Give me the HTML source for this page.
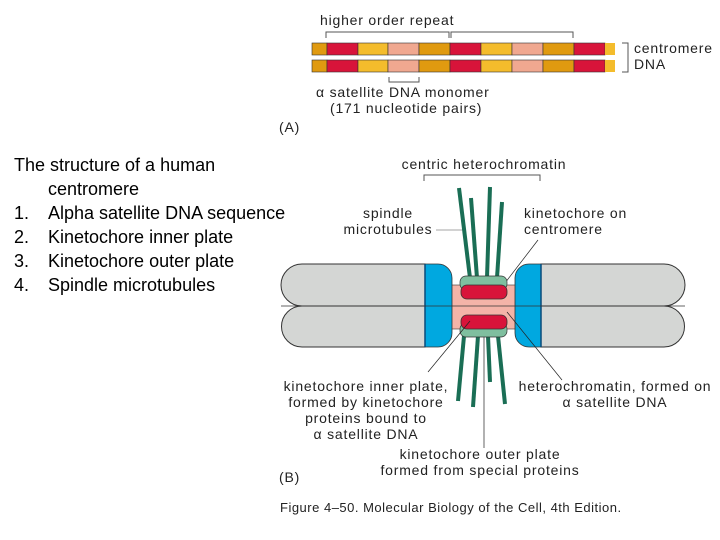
<!DOCTYPE html>
<html><head><meta charset="utf-8"><style>
html,body{margin:0;padding:0;background:#fff;width:720px;height:540px;overflow:hidden}
svg{position:absolute;left:0;top:0}
.t{font-family:"Liberation Sans",sans-serif;font-size:14px;letter-spacing:0.8px;fill:#222}
.c{font-family:"Liberation Sans",sans-serif;font-size:18px;fill:#000}
</style></head><body>
<svg width="720" height="540" viewBox="0 0 720 540">
<!-- Panel A -->
<text class="t" x="320" y="25">higher order repeat</text>
<path d="M326,38 V32 H449 V38 M451,38 V32 H573 V38" fill="none" stroke="#555" stroke-width="1"/>
<g stroke="#333" stroke-width="0.6">
<g id="bar">
<rect x="312" y="43" width="15" height="12" fill="#e09a10"/>
<rect x="327" y="43" width="31" height="12" fill="#d8143a"/>
<rect x="358" y="43" width="30" height="12" fill="#f4bc2c"/>
<rect x="388" y="43" width="31" height="12" fill="#f0a890"/>
<rect x="419" y="43" width="31" height="12" fill="#e09a10"/>
<rect x="450" y="43" width="31" height="12" fill="#d8143a"/>
<rect x="481" y="43" width="31" height="12" fill="#f4bc2c"/>
<rect x="512" y="43" width="31" height="12" fill="#f0a890"/>
<rect x="543" y="43" width="31" height="12" fill="#e09a10"/>
<rect x="574" y="43" width="31" height="12" fill="#d8143a"/>
<rect x="605" y="43" width="10" height="12" fill="#f4bc2c" stroke="none"/>
</g>
<use href="#bar" y="17"/>
</g>
<path d="M622,43 H628 V72 H622" fill="none" stroke="#555"/>
<text class="t" x="634" y="53">centromere</text>
<text class="t" x="634" y="69">DNA</text>
<path d="M389,77 V82 H419 V77" fill="none" stroke="#555"/>
<text class="t" x="316" y="97">α satellite DNA monomer</text>
<text class="t" x="330" y="113">(171 nucleotide pairs)</text>
<text class="t" x="279" y="132">(A)</text>

<!-- Panel B -->
<text class="t" x="484" y="169" text-anchor="middle">centric heterochromatin</text>
<path d="M424,181 V175 H540 V181" fill="none" stroke="#555"/>
<text class="t" x="388" y="218" text-anchor="middle">spindle</text>
<text class="t" x="388" y="234" text-anchor="middle">microtubules</text>
<line x1="436" y1="230" x2="465" y2="230" stroke="#888" stroke-width="0.8"/>
<text class="t" x="524" y="218">kinetochore on</text>
<text class="t" x="524" y="234">centromere</text>
<line x1="538" y1="240" x2="505" y2="283" stroke="#222" stroke-width="0.7"/>

<!-- arms -->
<g stroke="#333" stroke-width="1" fill="#d4d6d4">
<path d="M425,264 H302 A21,21 0 0 0 302,306 H425 Z"/>
<path d="M425,306 H302 A20.5,20.5 0 0 0 302,347 H425 Z"/>
<path d="M541,264 H664 A21,21 0 0 1 664,306 H541 Z"/>
<path d="M541,306 H664 A20.5,20.5 0 0 1 664,347 H541 Z"/>
</g>
<rect x="450" y="285" width="68" height="44" fill="#f4b4a8" stroke="#333" stroke-width="0.6"/>
<path d="M425,264 H438 A14,14 0 0 1 452,278 V333 A14,14 0 0 1 438,347 H425 Z" fill="#00a8e0" stroke="#333" stroke-width="0.8"/>
<path d="M541,264 H529 A14,14 0 0 0 515,278 V333 A14,14 0 0 0 529,347 H541 Z" fill="#00a8e0" stroke="#333" stroke-width="0.8"/>
<line x1="425" y1="264" x2="425" y2="347" stroke="#0a4a7a" stroke-width="1.5"/>
<line x1="541" y1="264" x2="541" y2="347" stroke="#0a4a7a" stroke-width="1.5"/>
<line x1="281" y1="306" x2="685" y2="306" stroke="#333" stroke-width="0.7"/>

<!-- microtubules -->
<g stroke="#1a6e55" stroke-width="4" stroke-linecap="butt">
<line x1="459" y1="188" x2="470" y2="278"/>
<line x1="471" y1="198" x2="477" y2="278"/>
<line x1="490" y1="187" x2="487" y2="278"/>
<line x1="502" y1="202" x2="497" y2="278"/>
<line x1="458" y1="401" x2="464" y2="336"/>
<line x1="473" y1="407" x2="478" y2="336"/>
<line x1="490" y1="382" x2="488" y2="336"/>
<line x1="505" y1="404" x2="498" y2="336"/>
</g>
<rect x="460" y="276" width="47" height="14" rx="6" fill="#7fbf9f" stroke="#333" stroke-width="0.7"/>
<rect x="461" y="285" width="46" height="14" rx="6" fill="#d8143a" stroke="#333" stroke-width="0.8"/>
<rect x="460" y="323" width="47" height="14" rx="6" fill="#7fbf9f" stroke="#333" stroke-width="0.7"/>
<rect x="461" y="315" width="46" height="14" rx="6" fill="#d8143a" stroke="#333" stroke-width="0.8"/>

<g stroke="#222" stroke-width="0.7">
<line x1="470" y1="321" x2="428" y2="372"/>
<line x1="507" y1="312" x2="562" y2="380"/>
<line x1="484" y1="337" x2="484" y2="448"/>
</g>
<g class="t" text-anchor="middle">
<text x="366" y="391">kinetochore inner plate,</text>
<text x="366" y="407">formed by kinetochore</text>
<text x="366" y="423">proteins bound to</text>
<text x="366" y="439">α satellite DNA</text>
<text x="615" y="391">heterochromatin, formed on</text>
<text x="615" y="407">α satellite DNA</text>
<text x="480" y="459">kinetochore outer plate</text>
<text x="480" y="475">formed from special proteins</text>
</g>
<text class="t" x="279" y="482">(B)</text>
<text class="t" x="280" y="512" style="font-size:13px;letter-spacing:0.5px">Figure 4–50. Molecular Biology of the Cell, 4th Edition.</text>

<!-- left text -->
<text class="c" x="14" y="171">The structure of a human</text>
<text class="c" x="48" y="195">centromere</text>
<text class="c" x="14" y="219">1.</text><text class="c" x="48" y="219">Alpha satellite DNA sequence</text>
<text class="c" x="14" y="243">2.</text><text class="c" x="48" y="243">Kinetochore inner plate</text>
<text class="c" x="14" y="267">3.</text><text class="c" x="48" y="267">Kinetochore outer plate</text>
<text class="c" x="14" y="291">4.</text><text class="c" x="48" y="291">Spindle microtubules</text>
</svg>
</body></html>
